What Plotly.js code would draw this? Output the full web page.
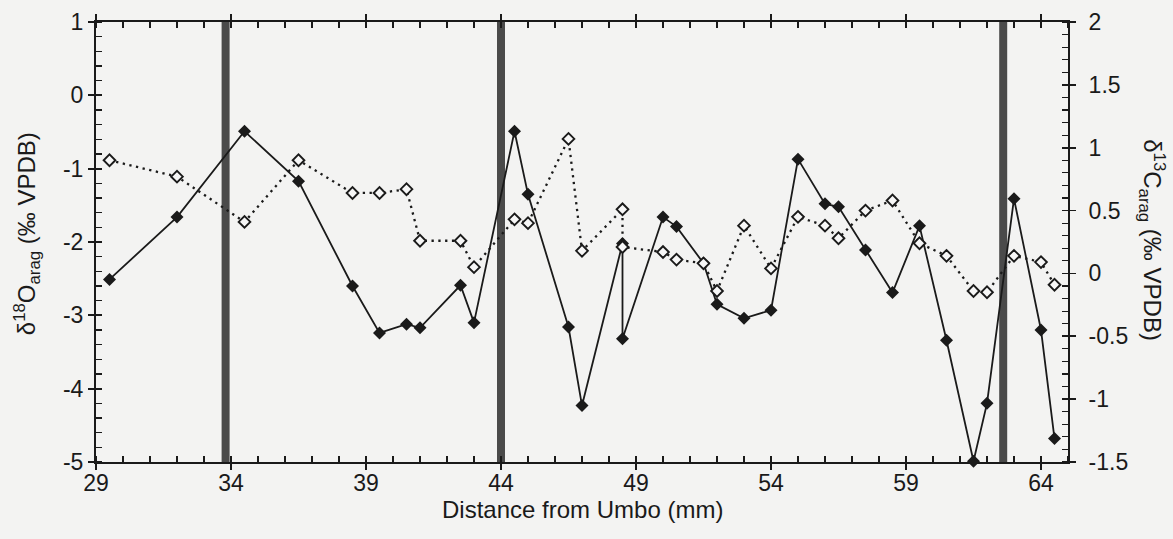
<!DOCTYPE html>
<html>
<head>
<meta charset="utf-8">
<script src="https://cdn.plot.ly/plotly-3.0.1.min.js"></script>
<style>
  html, body { margin: 0; padding: 0; background: #f3f3f2; }
  #chart { width: 1173px; height: 539px; }
</style>
</head>
<body>
<div id="chart"></div>
<script>
// Sampling positions along the shell (mm from umbo)
const distance = [29.5, 32, 34.5, 36.5, 38.5, 39.5, 40.5, 41, 42.5, 43,
                  44.5, 45, 46.5, 47, 48.5, 48.5, 50, 50.5, 51.5, 52,
                  53, 54, 55, 56, 56.5, 57.5, 58.5, 59.5, 60.5, 61.5,
                  62, 63, 64, 64.5];

// Oxygen isotope values (left axis)
const d18O = [-2.51, -1.66, -0.49, -1.17, -2.60, -3.24, -3.12, -3.17, -2.59, -3.10,
              -0.49, -1.35, -3.16, -4.23, -2.02, -3.32, -1.66, -1.79, -2.29, -2.85,
              -3.04, -2.93, -0.87, -1.48, -1.52, -2.11, -2.69, -1.78, -3.34, -4.99,
              -4.20, -1.41, -3.20, -4.68];

// Carbon isotope values (right axis)
const d13C = [0.90, 0.77, 0.41, 0.90, 0.64, 0.64, 0.67, 0.26, 0.26, 0.05,
              0.43, 0.40, 1.07, 0.18, 0.51, 0.21, 0.17, 0.11, 0.08, -0.14,
              0.38, 0.04, 0.45, 0.38, 0.28, 0.50, 0.58, 0.24, 0.14, -0.14,
              -0.15, 0.14, 0.09, -0.09];

// Growth-line positions (mm)
const growthLines = [33.8, 44.0, 62.6];

const xTicks = [29, 34, 39, 44, 49, 54, 59, 64];
const leftTicks = [1, 0, -1, -2, -3, -4, -5];
const rightTicks = [2, 1.5, 1, 0.5, 0, -0.5, -1, -1.5];

const FONT = 'Liberation Sans, Arial, sans-serif';
const INK = '#1a1a1a';
const TICKFONT = {family: FONT, size: 23, color: INK};

const traces = [
  {
    x: distance, y: d18O, type: 'scatter', mode: 'lines+markers',
    yaxis: 'y', xaxis: 'x', cliponaxis: false,
    line: {color: INK, width: 1.8},
    marker: {symbol: 'diamond', size: 10, color: INK, line: {width: 0}},
    showlegend: false
  },
  {
    x: distance, y: d13C, type: 'scatter', mode: 'lines+markers',
    yaxis: 'y2', xaxis: 'x', cliponaxis: false,
    line: {color: INK, width: 2.3, dash: '2.3px,4.5px'},
    marker: {symbol: 'diamond', size: 9, color: '#f7f7f7', line: {color: INK, width: 1.9}},
    showlegend: false
  }
];

const shapes = growthLines.map(g => ({
  type: 'line', xref: 'x', yref: 'paper',
  x0: g, x1: g, y0: 0, y1: 1,
  line: {color: '#4a4a4a', width: 8},
  layer: 'below'
}));

const layout = {
  width: 1173, height: 539,
  paper_bgcolor: '#f3f3f2', plot_bgcolor: '#f3f3f2',
  margin: {l: 95.5, r: 105.3, t: 21.7, b: 76.7, pad: 0},
  showlegend: false,
  shapes: shapes,
  xaxis: {
    range: [29, 65], tickvals: xTicks, ticktext: xTicks.map(String),
    ticks: 'outside', ticklen: 6, tickwidth: 1.8, tickcolor: INK,
    minor: {dtick: 1, tick0: 29, ticks: 'inside', ticklen: 6, tickwidth: 1.2, tickcolor: INK},
    showline: true, linecolor: INK, linewidth: 2, mirror: 'allticks',
    showgrid: false, zeroline: false,
    tickfont: TICKFONT, ticklabelstandoff: -7
  },
  // inner half of the crossing major ticks on the x axis
  xaxis2: {
    overlaying: 'x', anchor: 'y', side: 'bottom', range: [29, 65],
    tickvals: xTicks, ticks: 'inside', ticklen: 6, tickwidth: 1.8, tickcolor: INK,
    showticklabels: false, showline: false, showgrid: false, zeroline: false, mirror: 'ticks'
  },
  yaxis: {
    range: [-5, 1], tickvals: leftTicks, ticktext: leftTicks.map(String),
    ticks: 'outside', ticklen: 6, tickwidth: 1.8, tickcolor: INK,
    minor: {dtick: 0.2, tick0: 0, ticks: 'inside', ticklen: 6, tickwidth: 1.2, tickcolor: INK},
    showline: true, linecolor: INK, linewidth: 2,
    showgrid: false, zeroline: false,
    tickfont: TICKFONT
  },
  yaxis2: {
    overlaying: 'y', side: 'right', anchor: 'x',
    range: [-1.5, 2], tickvals: rightTicks, ticktext: rightTicks.map(String),
    ticks: 'outside', ticklen: 6, tickwidth: 1.8, tickcolor: INK,
    minor: {dtick: 0.1, tick0: 0, ticks: 'inside', ticklen: 6, tickwidth: 1.2, tickcolor: INK},
    showline: true, linecolor: INK, linewidth: 2,
    showgrid: false, zeroline: false,
    tickfont: TICKFONT, ticklabelstandoff: 8
  },
  // inner half of the crossing major ticks on both y axes
  yaxis3: {
    overlaying: 'y', side: 'left', anchor: 'x', range: [-5, 1],
    tickvals: leftTicks, ticks: 'inside', ticklen: 6, tickwidth: 1.8, tickcolor: INK,
    showticklabels: false, showline: false, showgrid: false, zeroline: false
  },
  yaxis4: {
    overlaying: 'y', side: 'right', anchor: 'x', range: [-1.5, 2],
    tickvals: rightTicks, ticks: 'inside', ticklen: 6, tickwidth: 1.8, tickcolor: INK,
    showticklabels: false, showline: false, showgrid: false, zeroline: false
  },
  annotations: [
    {
      text: 'Distance from Umbo (mm)',
      xref: 'paper', yref: 'paper', x: 0.5, y: -0.108,
      xanchor: 'center', yanchor: 'middle', showarrow: false,
      font: {family: FONT, size: 24, color: INK}
    },
    {
      text: 'δ<sup>18</sup>O<sub>arag</sub> (‰ VPDB)',
      xref: 'paper', yref: 'paper', x: -0.071, y: 0.52,
      xanchor: 'center', yanchor: 'middle', textangle: -90, showarrow: false,
      font: {family: FONT, size: 24, color: INK}
    },
    {
      text: 'δ<sup>13</sup>C<sub>arag</sub> (‰ VPDB)',
      xref: 'paper', yref: 'paper', x: 1.087, y: 0.505,
      xanchor: 'center', yanchor: 'middle', textangle: 90, showarrow: false,
      font: {family: FONT, size: 24, color: INK}
    }
  ]
};

// Empty traces so the helper axes are drawn
traces.push({x: [29], y: [null], xaxis: 'x2', yaxis: 'y3', type: 'scatter', mode: 'markers', showlegend: false, hoverinfo: 'skip'});
traces.push({x: [29], y: [null], xaxis: 'x', yaxis: 'y4', type: 'scatter', mode: 'markers', showlegend: false, hoverinfo: 'skip'});

Plotly.newPlot('chart', traces, layout, {staticPlot: true, displayModeBar: false});
</script>
</body>
</html>
